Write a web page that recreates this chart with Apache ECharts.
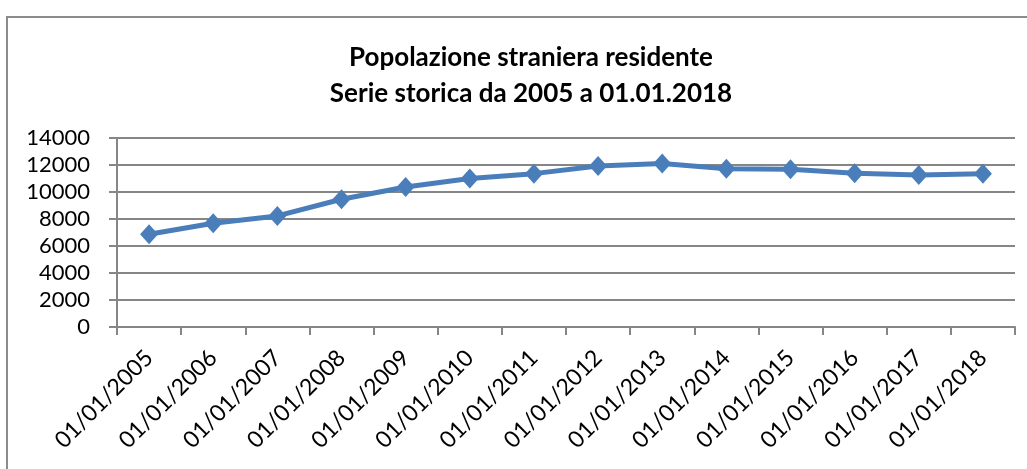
<!DOCTYPE html>
<html>
<head>
<meta charset="utf-8">
<script src="https://cdn.jsdelivr.net/npm/echarts@6/dist/echarts.min.js"></script>
<style>
html, body { margin: 0; padding: 0; background: #fff; }
#chart { width: 1027px; height: 469px; }
</style>
</head>
<body>
<div id="chart"></div>
<script>
var categories = ['01/01/2005', '01/01/2006', '01/01/2007', '01/01/2008', '01/01/2009',
	'01/01/2010', '01/01/2011', '01/01/2012', '01/01/2013', '01/01/2014',
	'01/01/2015', '01/01/2016', '01/01/2017', '01/01/2018'];
var stranieri = [6870, 7680, 8230, 9460, 10370, 11000, 11360, 11920, 12110, 11730, 11680, 11390, 11260, 11360];
var titleLines = ['Popolazione straniera residente', 'Serie storica da 2005 a 01.01.2018'];

var font = 'Lato, "Liberation Sans", sans-serif';

var option = {
	backgroundColor: '#fff',
	animation: false,
	title: {
		text: titleLines.join('\n'),
		left: 526,
		top: 35,
		textAlign: 'center',
		textStyle: {
			fontFamily: font,
			fontSize: 26,
			fontWeight: 'bold',
			color: '#000',
			lineHeight: 36
		}
	},
	graphic: [{
		type: 'rect',
		shape: { x: 7, y: 17, width: 1040, height: 480 },
		style: { fill: 'none', stroke: '#8c8c8c', lineWidth: 2 },
		silent: true
	}],
	grid: {
		left: 117,
		right: 12,
		top: 138,
		bottom: 142,
		containLabel: false
	},
	xAxis: {
		type: 'category',
		data: categories,
		boundaryGap: true,
		axisLine: { lineStyle: { color: '#868686', width: 2 } },
		axisTick: { show: true, length: 8, alignWithLabel: false, lineStyle: { color: '#868686', width: 2 } },
		axisLabel: {
			rotate: 45,
			interval: 0,
			margin: 27,
			fontFamily: font,
			fontSize: 23,
			color: '#000'
		},
		splitLine: { show: false }
	},
	yAxis: {
		type: 'value',
		min: 0,
		max: 14000,
		interval: 2000,
		axisLine: { show: true, lineStyle: { color: '#868686', width: 2 } },
		axisTick: { show: true, length: 8, lineStyle: { color: '#868686', width: 2 } },
		axisLabel: {
			margin: 27,
			fontFamily: font,
			fontSize: 22,
			color: '#000',
			formatter: function (v) { return String(v); }
		},
		splitLine: { lineStyle: { color: '#868686', width: 2 } }
	},
	series: [{
		name: 'Popolazione straniera',
		type: 'line',
		data: stranieri,
		symbol: 'diamond',
		symbolSize: [18, 20],
		lineStyle: { color: '#4a7ebb', width: 5 },
		itemStyle: { color: '#4a7ebb' }
	}]
};

var myChart = echarts.init(document.getElementById('chart'), null, { renderer: 'canvas' });
myChart.setOption(option);
</script>
</body>
</html>
